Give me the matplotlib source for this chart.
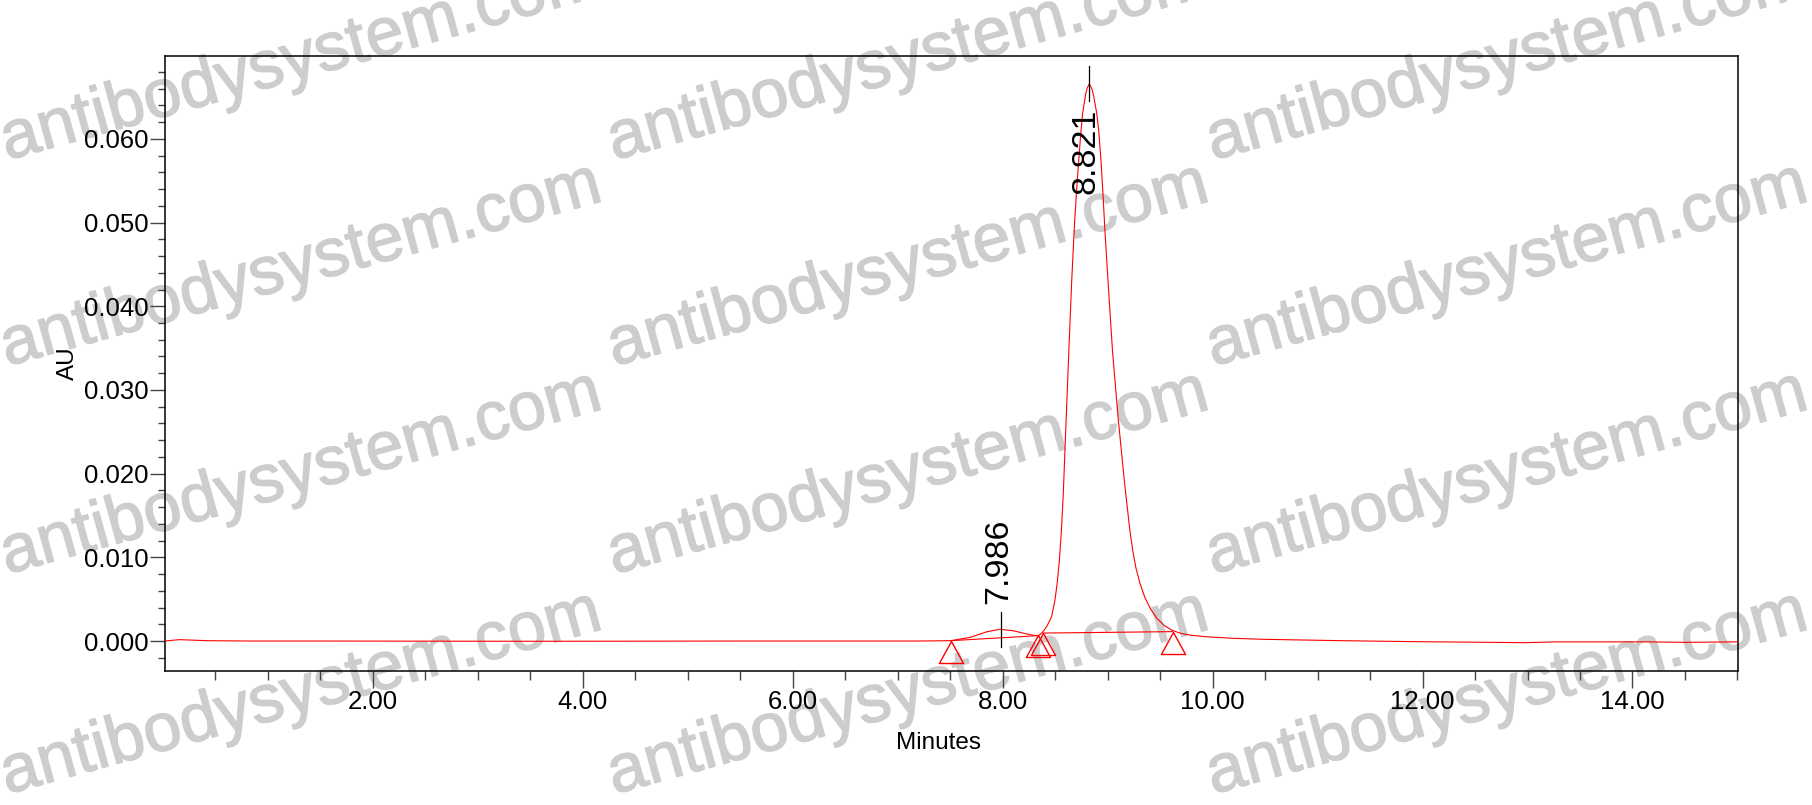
import matplotlib
matplotlib.use('Agg')
import matplotlib.pyplot as plt
import matplotlib.patheffects as pe
from matplotlib.ticker import MultipleLocator, FormatStrFormatter

plt.rcParams['font.family'] = ['Liberation Sans', 'DejaVu Sans']

# chromatogram trace (minutes, AU)
time_min = [0.02, 0.10, 0.16, 0.25, 0.42, 0.80, 1.50, 2.50, 3.50, 4.50, 5.50, 6.50,
            7.21, 7.505, 7.69, 7.85, 7.975, 8.10, 8.23, 8.30, 8.34, 8.371, 8.419,
            8.466, 8.498, 8.520, 8.539, 8.558, 8.577, 8.603, 8.632, 8.658, 8.685,
            8.711, 8.743, 8.762, 8.790, 8.803, 8.825, 8.850, 8.867, 8.895, 8.914,
            8.936, 8.955, 8.975, 9.006, 9.047, 9.101, 9.158, 9.185, 9.212, 9.240,
            9.270, 9.310, 9.355, 9.410, 9.470, 9.540, 9.620, 9.700, 9.800, 9.950,
            10.20, 10.50, 11.23, 11.95, 12.68, 12.97, 13.27, 13.60, 14.14, 14.51,
            15.00]
au = [0.00000, 0.00010, 0.00016, 0.00012, 0.00004, 0.00000, 0.00000, -0.00002,
      -0.00003, -0.00002, 0.00000, 0.00000, 0.00000, 0.00004, 0.00044, 0.00111,
      0.00140, 0.00123, 0.00084, 0.00068, 0.00066, 0.00092, 0.00171, 0.00291,
      0.00490, 0.00700, 0.00950, 0.01288, 0.01750, 0.02600, 0.03520, 0.04318,
      0.05000, 0.05514, 0.06050, 0.06312, 0.06530, 0.06600, 0.06659, 0.06595,
      0.06511, 0.06312, 0.06112, 0.05750, 0.05350, 0.04880, 0.04250, 0.03450,
      0.02650, 0.01926, 0.01620, 0.01320, 0.01070, 0.00870, 0.00680, 0.00520,
      0.00380, 0.00270, 0.00185, 0.00125, 0.00090, 0.00068, 0.00050, 0.00032,
      0.00020, 0.00004, -0.00008, -0.00016, -0.00020, -0.00010, -0.00010,
      -0.00010, -0.00016, -0.00010]

# integration baselines (start, end)
base_t = [(7.505, 8.336), (8.384, 9.619)]
base_au = [(0.00004, 0.00064), (0.00095, 0.00112)]

# peak start/end markers
mark_t = [7.505, 8.336, 8.384, 9.619]
mark_au = [0.00004, 0.00066, 0.00092, 0.00112]

# peak apex labels
peak_rt = [7.986, 8.821]
peak_au = [0.00140, 0.06659]
peak_txt = ['7.986', '8.821']
label_side = [1, -1]   # above / below the apex

fig = plt.figure(figsize=(18.12, 8.05), dpi=100)

# watermark
wm_x = [301, 908, 1507]
wm_y = [60, 266, 474, 694]
for yy in wm_y:
    for xx in wm_x:
        fig.text(xx / 1812, 1 - yy / 805, 'antibodysystem.com', fontsize=49,
                 color='#cdcdcd', rotation=15.5, rotation_mode='anchor',
                 ha='center', va='center', zorder=-10,
                 path_effects=[pe.withStroke(linewidth=1.0, foreground='#cdcdcd')])

ax = fig.add_axes([0.0911, 0.1668, 0.8681, 0.7636])
ax.patch.set_alpha(0)

ax.plot(time_min, au, color='red', lw=0.8, zorder=3)
for t, a in zip(base_t, base_au):
    ax.plot(t, a, color='red', lw=0.8, zorder=3)

# open triangles hanging below each point
tri = [(0, 0), (-0.55, -1), (0.55, -1), (0, 0)]
ax.plot(mark_t, mark_au, ls='none', marker=tri, markersize=31.7,
        markerfacecolor='none', markeredgecolor='red', markeredgewidth=1.0, zorder=4)

half = 0.0021  # half length of apex tick in AU
for rt, h, txt, side in zip(peak_rt, peak_au, peak_txt, label_side):
    ax.plot([rt, rt], [h - half, h + half], color='black', lw=0.9, zorder=4)
    ax.annotate(txt, (rt, h), xytext=(-2.5, 68 * side), textcoords='offset pixels',
                rotation=90, ha='center', va='center', fontsize=24.5, zorder=5)

ax.set_xlim(0.02, 15.006)
ax.set_ylim(-0.00355, 0.0699)

ax.xaxis.set_major_locator(MultipleLocator(2))
ax.xaxis.set_minor_locator(MultipleLocator(0.5))
ax.xaxis.set_major_formatter(FormatStrFormatter('%.2f'))
ax.yaxis.set_major_locator(MultipleLocator(0.010))
ax.yaxis.set_minor_locator(MultipleLocator(0.002))
ax.yaxis.set_major_formatter(FormatStrFormatter('%.3f'))

ax.tick_params(axis='both', which='both', direction='out', color='#444444',
               width=1.0, labelsize=18.5)
ax.tick_params(axis='x', which='major', length=12, pad=2)
ax.tick_params(axis='x', which='minor', length=6.5)
ax.tick_params(axis='y', which='major', length=11, pad=1)
ax.tick_params(axis='y', which='minor', length=5)

for s in ax.spines.values():
    s.set_color('black')
    s.set_linewidth(1.1)

ax.set_xlabel('Minutes', fontsize=17.5)
ax.set_ylabel('AU', fontsize=17.5)
ax.xaxis.set_label_coords(0.4914, -0.10)
ax.yaxis.set_label_coords(-0.055, 0.5)

fig.savefig('out.png', dpi=100)
